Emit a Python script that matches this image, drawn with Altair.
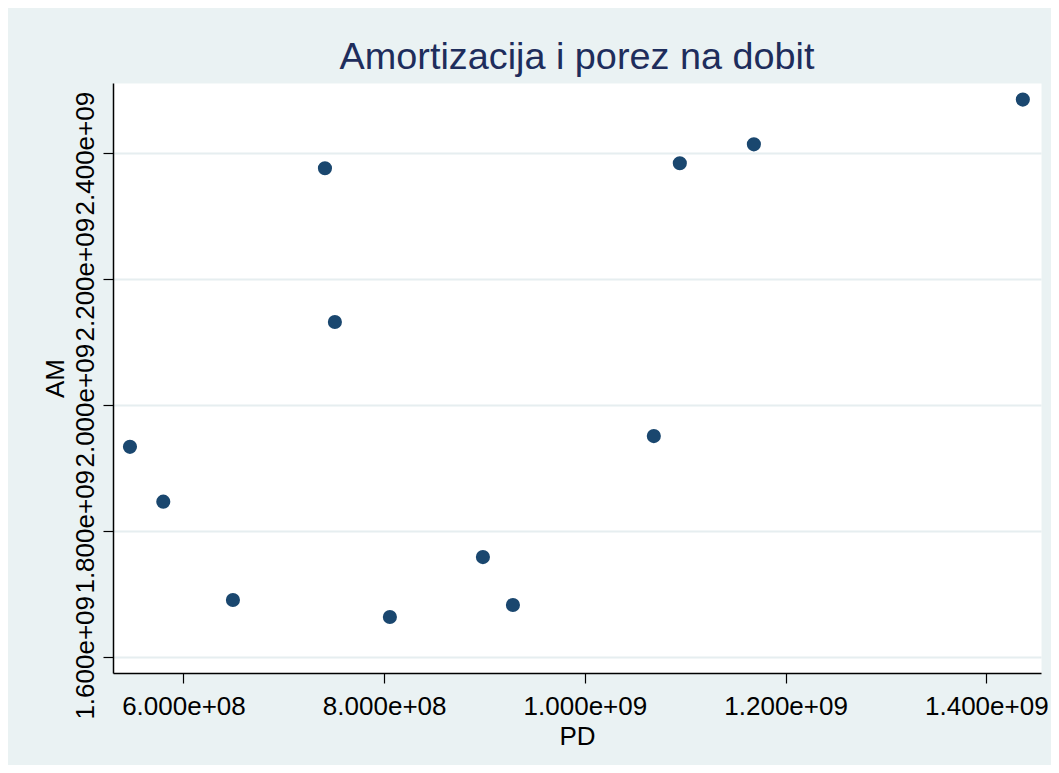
import altair as alt
import pandas as pd

# Data
PD = [5.467e8, 5.799e8, 6.493e8, 7.410e8, 7.509e8, 8.057e8,
      8.984e8, 9.283e8, 1.0687e9, 1.0946e9, 1.1684e9, 1.4364e9]
AM = [1.934e9, 1.847e9, 1.691e9, 2.376e9, 2.132e9, 1.664e9,
      1.759e9, 1.683e9, 1.951e9, 2.384e9, 2.414e9, 2.485e9]

x_ticks = [6e8, 8e8, 1.0e9, 1.2e9, 1.4e9]
y_ticks = [1.6e9, 1.8e9, 2.0e9, 2.2e9, 2.4e9]
x_domain = [5.298e8, 1.4545e9]
y_domain = [1.5751e9, 2.5113e9]

TITLE = "Amortizacija i porez na dobit"
FONT = "Liberation Sans"

df = pd.DataFrame({"PD": PD, "AM": AM})

label_expr = "replace(format(datum.value, '.3e'), 'e+', 'e+0')"

chart = alt.Chart(df).mark_circle(
    size=200, color="#1A476F", opacity=1
).encode(
    x=alt.X(
        "PD:Q",
        scale=alt.Scale(domain=x_domain, nice=False, zero=False),
        axis=alt.Axis(
            title="PD",
            values=x_ticks,
            labelExpr=label_expr,
            grid=False,
            tickSize=10,
            labelPadding=10,
            labelOverlap=False,
            labelFlush=False,
            titleX=464,
            titleY=71,
            titleBaseline="alphabetic",
            titleAlign="center",
        ),
    ),
    y=alt.Y(
        "AM:Q",
        scale=alt.Scale(domain=y_domain, nice=False, zero=False),
        axis=alt.Axis(
            title="AM",
            values=y_ticks,
            labelExpr=label_expr,
            grid=True,
            gridColor="#E6EEF0",
            gridWidth=2,
            tickSize=10,
            labelAngle=-90,
            labelAlign="center",
            labelBaseline="alphabetic",
            labelPadding=10,
            labelOverlap=False,
            labelFlush=False,
            titleAngle=-90,
            titleX=-50,
            titleY=295,
            titleBaseline="alphabetic",
            titleAlign="center",
        ),
    ),
).properties(
    width=928,
    height=590,
    padding={"left": 105, "top": 75, "right": 10, "bottom": 92},
    autosize=alt.AutoSizeParams(type="none"),
    title=alt.TitleParams(
        text=TITLE,
        font=FONT,
        fontSize=37.8,
        fontWeight="normal",
        color="#1E2D5C",
        anchor="middle",
        frame="group",
        baseline="bottom",
        offset=8,
        dy=40,
    ),
).configure(
    background="#EAF2F3",
).configure_view(
    fill="white",
    stroke="transparent",
).configure_axis(
    labelFont=FONT,
    titleFont=FONT,
    labelFontSize=26,
    titleFontSize=26,
    titleFontWeight="normal",
    labelColor="black",
    titleColor="black",
    domainColor="black",
    domainWidth=1.5,
    tickColor="black",
    tickWidth=1.2,
)

chart.save("out.html", embed_options={"renderer": "svg", "actions": False})
